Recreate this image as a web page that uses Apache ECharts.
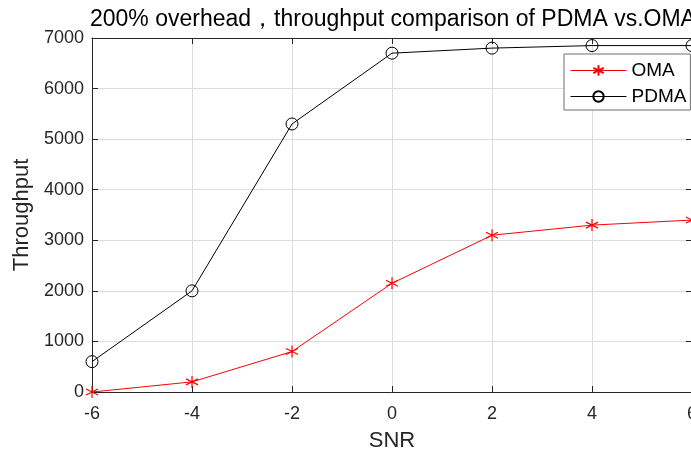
<!DOCTYPE html>
<html lang="en">
  <head>
    <meta charset="UTF-8" />
    <title>throughput chart</title>
    <style>
      body, html {
        margin: 0;
        width: 100%;
        height: 100%;
        background: #fff;
      }
    </style>
  </head>
  <body>
    <div id="main" style="width:691px;height:452px;"></div>

    <script src="https://cdn.jsdelivr.net/npm/echarts@6/dist/echarts.min.js"></script>
    <script>
      const snr = [-6, -4, -2, 0, 2, 4, 6];
      const omaValues = [0, 200, 800, 2150, 3100, 3300, 3400];
      const pdmaValues = [600, 2000, 5300, 6700, 6800, 6850, 6850];

      const asterisk = 'path://M5 0L5 10M0.7 2.5L9.3 7.5M0.7 7.5L9.3 2.5';
      const font = 'Liberation Sans, Arial, sans-serif';

      function pairs(ys) {
        return snr.map((x, i) => [x, ys[i]]);
      }

      const myChart = echarts.init(document.getElementById('main'));

      const axisLine = { show: true, onZero: false, lineStyle: { color: '#262626', width: 1 } };
      const tick = { show: true, inside: true, length: 6, lineStyle: { color: '#262626' } };

      const option = {
        animation: false,
        backgroundColor: '#fff',
        title: {
          text: '200% overhead，throughput comparison of PDMA vs.OMA',
          left: 90,
          top: 8,
          padding: 0,
          textStyle: { fontFamily: font, fontSize: 23, fontWeight: 'normal', color: '#000' },
        },
        grid: {
          left: 92,
          right: -1,
          top: 38,
          bottom: 60,
          containLabel: false,
          outerBoundsMode: 'none',
        },
        legend: {
          left: 564,
          top: 54,
          orient: 'vertical',
          backgroundColor: '#fff',
          borderColor: '#6e6e6e',
          borderWidth: 1,
          borderRadius: 0,
          padding: [7, 4, 4, 6],
          itemWidth: 56,
          itemHeight: 13,
          itemGap: 7,
          lineStyle: { width: 1 },
          textStyle: { fontFamily: font, fontSize: 19, lineHeight: 19, color: '#000' },
          data: ['OMA', 'PDMA'],
        },
        xAxis: [
          {
            type: 'value',
            min: -6,
            max: 6,
            interval: 2,
            name: 'SNR',
            nameLocation: 'middle',
            nameGap: 38,
            nameTextStyle: { fontFamily: font, fontSize: 22, color: '#262626' },
            axisLine: axisLine,
            axisTick: tick,
            axisLabel: { fontFamily: font, fontSize: 18, color: '#262626', margin: 13 },
            splitLine: { show: true, lineStyle: { color: '#dcdcdc', width: 1 } },
          },
          {
            type: 'value',
            position: 'top',
            min: -6,
            max: 6,
            interval: 2,
            axisLine: axisLine,
            axisTick: tick,
            axisLabel: { show: false },
            splitLine: { show: false },
          },
        ],
        yAxis: [
          {
            type: 'value',
            min: 0,
            max: 7000,
            interval: 1000,
            name: 'Throughput',
            nameLocation: 'middle',
            nameGap: 59,
            nameTextStyle: { fontFamily: font, fontSize: 22, color: '#262626' },
            axisLine: axisLine,
            axisTick: tick,
            axisLabel: {
              fontFamily: font,
              fontSize: 18,
              color: '#262626',
              margin: 8,
              formatter: v => String(v),
            },
            splitLine: { show: true, lineStyle: { color: '#dcdcdc', width: 1 } },
          },
          {
            type: 'value',
            position: 'right',
            min: 0,
            max: 7000,
            interval: 1000,
            axisLine: axisLine,
            axisTick: tick,
            axisLabel: { show: false },
            splitLine: { show: false },
          },
        ],
        series: [
          {
            name: 'OMA',
            type: 'line',
            data: pairs(omaValues),
            symbol: asterisk,
            symbolSize: 12,
            lineStyle: { color: '#ff0000', width: 1 },
            itemStyle: { color: 'transparent', borderColor: '#ff0000', borderWidth: 1.2 },
            z: 3,
          },
          {
            name: 'PDMA',
            type: 'line',
            data: pairs(pdmaValues),
            symbol: 'circle',
            symbolSize: 12,
            lineStyle: { color: '#000', width: 1 },
            itemStyle: { color: 'transparent', borderColor: '#000', borderWidth: 1 },
            z: 2,
          },
        ],
      };

      myChart.setOption(option);
    </script>
  </body>
</html>
